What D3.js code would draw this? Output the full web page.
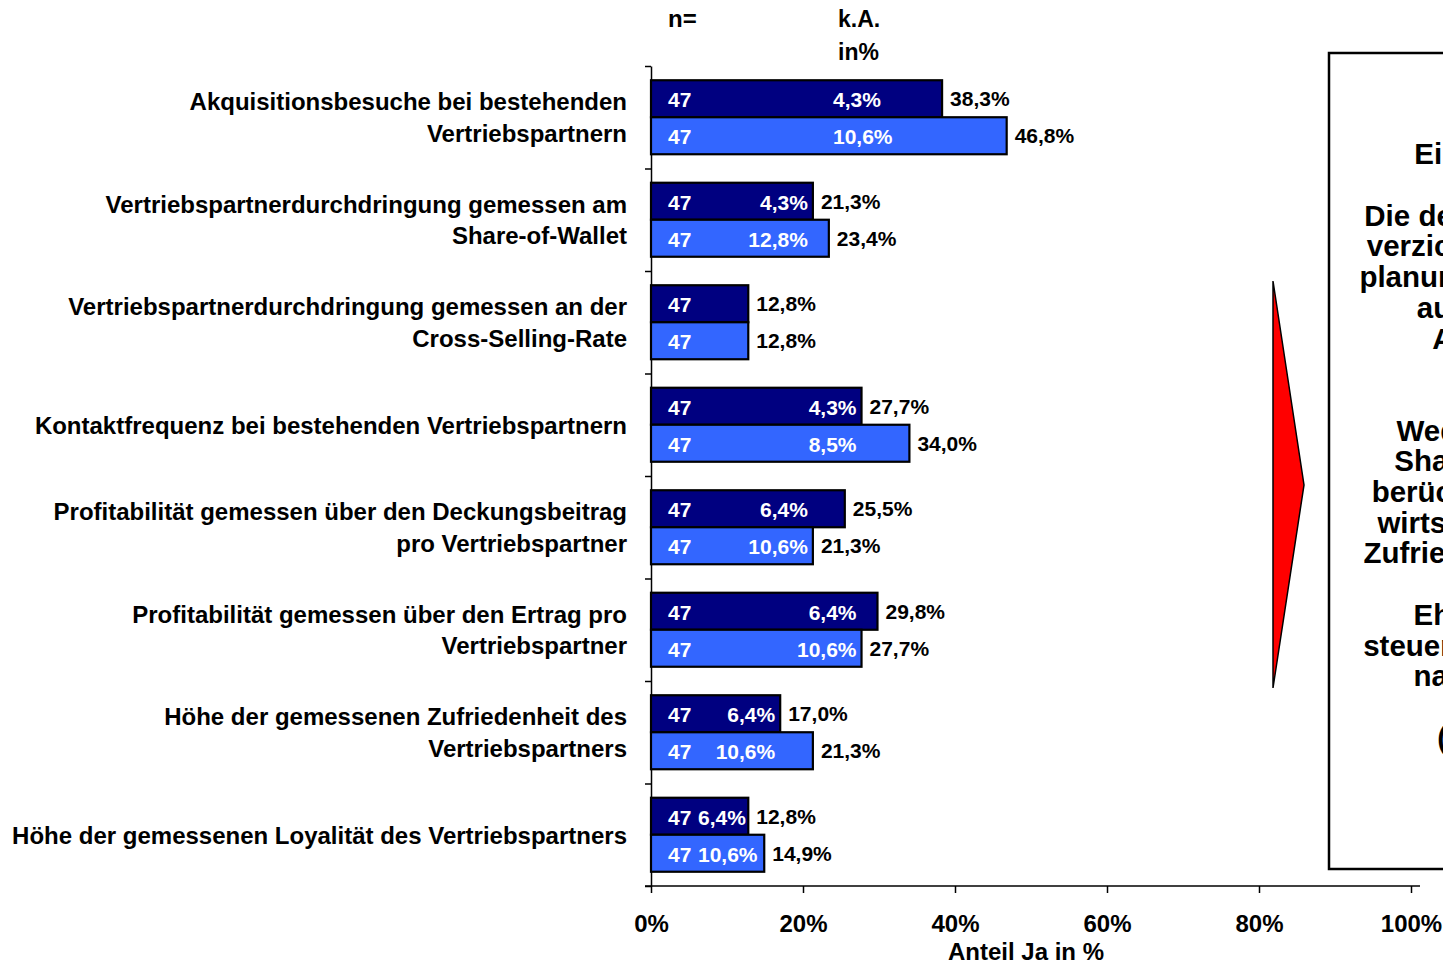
<!DOCTYPE html>
<html>
<head>
<meta charset="utf-8">
<script src="https://cdn.jsdelivr.net/npm/d3@7/dist/d3.min.js"></script>
<style>
  body { margin: 0; background: #fff; overflow: hidden; }
  svg { display: block; font-family: "Liberation Sans", Arial, sans-serif; font-weight: bold; }
</style>
</head>
<body>
<div id="chart"></div>
<script>
// Data
const categories = [
  ['Akquisitionsbesuche bei bestehenden', 'Vertriebspartnern'],
  ['Vertriebspartnerdurchdringung gemessen am', 'Share-of-Wallet'],
  ['Vertriebspartnerdurchdringung gemessen an der', 'Cross-Selling-Rate'],
  ['Kontaktfrequenz bei bestehenden Vertriebspartnern'],
  ['Profitabilität gemessen über den Deckungsbeitrag', 'pro Vertriebspartner'],
  ['Profitabilität gemessen über den Ertrag pro', 'Vertriebspartner'],
  ['Höhe der gemessenen Zufriedenheit des', 'Vertriebspartners'],
  ['Höhe der gemessenen Loyalität des Vertriebspartners']
];
const seriesDark = [38.3, 21.3, 12.8, 27.7, 25.5, 29.8, 17.0, 12.8];
const seriesLight = [46.8, 23.4, 12.8, 34.0, 21.3, 27.7, 21.3, 14.9];
const kaDark = [4.3, 4.3, null, 4.3, 6.4, 6.4, 6.4, 6.4];
const kaLight = [10.6, 12.8, null, 8.5, 10.6, 10.6, 10.6, 10.6];
const nDark = [47, 47, 47, 47, 47, 47, 47, 47];
const nLight = [47, 47, 47, 47, 47, 47, 47, 47];
const xTicks = [0, 20, 40, 60, 80, 100];
const boxLines = [
  'Einordnung:', '', 'Die deutschen KAG', 'verzichten bei ihrer', 'planung weitgehend',
  'auf die volle', 'Analysen.', '', '', 'Weder die CSR', 'Share-of-Wallet',
  'berücksichtigt, die', 'wirtschaftlich, die', 'Zufriedenheit sowie', '',
  'Eher werden', 'steuerliche Aspekte', 'nachgefragt.', '', '(Anhang)'
];

const fmt = v => v.toFixed(1).replace('.', ',') + '%';
const colors = { dark: '#000080', light: '#3366ff' };

const svg = d3.select('#chart').append('svg')
  .attr('width', 1443)
  .attr('height', 965);

// Scales
const x = d3.scaleLinear().domain([0, 100]).range([651, 1411]);
const y = d3.scaleBand().domain(d3.range(categories.length)).range([66, 886]);
const ySub = d3.scaleBand().domain(['dark', 'light']).range([0, y.bandwidth()]).paddingOuter(0.385);
const yIdx = d3.scaleLinear().domain([0, categories.length]).range([66, 886]);

const rows = categories.map((c, i) => ({
  i,
  label: c,
  bars: [
    { key: 'dark', value: seriesDark[i], ka: kaDark[i], n: nDark[i] },
    { key: 'light', value: seriesLight[i], ka: kaLight[i], n: nLight[i] }
  ]
}));

// Axes
const xAxis = svg.append('g')
  .attr('transform', 'translate(0,886)')
  .call(d3.axisBottom(x).tickValues(xTicks).tickSize(7).tickSizeOuter(0).tickPadding(22).tickFormat(d => d + '%'));
xAxis.select('.domain').attr('d', 'M645,0H1420');
xAxis.selectAll('line, path').attr('stroke-width', 1.5);
xAxis.selectAll('text').attr('font-size', 24).attr('font-weight', 'bold').attr('fill', '#000')
  .attr('font-family', '"Liberation Sans", Arial, sans-serif');

const yAxis = svg.append('g')
  .attr('transform', 'translate(651,0)')
  .call(d3.axisLeft(yIdx).tickValues(d3.range(categories.length + 1)).tickSize(6).tickSizeOuter(0).tickFormat(''));
yAxis.selectAll('line, path').attr('stroke-width', 1.5);

svg.append('text')
  .attr('x', 1026).attr('y', 952).attr('dy', '0.35em')
  .attr('text-anchor', 'middle').attr('font-size', 24)
  .text('Anteil Ja in %');

// Headers
svg.append('text').attr('x', 668).attr('y', 19).attr('dy', '0.35em').attr('font-size', 24).text('n=');
svg.append('text').attr('x', 838).attr('y', 19).attr('dy', '0.35em').attr('font-size', 23).text('k.A.');
svg.append('text').attr('x', 838).attr('y', 52).attr('dy', '0.35em').attr('font-size', 23).text('in%');

// Category labels
rows.forEach(r => {
  const cy = y(r.i) + y.bandwidth() / 2 + 1;
  const t = svg.append('text')
    .attr('text-anchor', 'end')
    .attr('font-size', 24);
  r.label.forEach((line, k) => {
    t.append('tspan')
      .attr('x', 627)
      .attr('y', cy + (k - (r.label.length - 1) / 2) * 31.5)
      .attr('dy', '0.33em')
      .text(line);
  });
});

// Bars
const groups = svg.selectAll('.row')
  .data(rows)
  .enter()
  .append('g')
  .attr('class', 'row')
  .attr('transform', d => `translate(0,${y(d.i)})`);

groups.selectAll('rect')
  .data(d => d.bars)
  .enter()
  .append('rect')
  .attr('x', x(0))
  .attr('y', d => ySub(d.key))
  .attr('width', d => x(d.value) - x(0))
  .attr('height', ySub.bandwidth())
  .attr('fill', d => colors[d.key])
  .attr('stroke', '#000')
  .attr('stroke-width', 2.2);

// n labels
groups.selectAll('.n')
  .data(d => d.bars)
  .enter()
  .append('text')
  .attr('x', 668)
  .attr('y', d => ySub(d.key) + ySub.bandwidth() / 2 + 1)
  .attr('dy', '0.35em')
  .attr('font-size', 21)
  .attr('fill', '#fff')
  .text(d => d.n);

// k.A. labels: in the k.A. column when the bars are long enough,
// otherwise right aligned inside the shorter bar, kept clear of n
const kaCol = 833;
groups.each(function(r) {
  const minEnd = d3.min(r.bars, b => x(b.value));
  const wide = minEnd - 5 > 890;
  d3.select(this).selectAll('.ka')
    .data(r.bars.filter(b => b.ka != null))
    .enter()
    .append('text')
    .attr('y', d => ySub(d.key) + ySub.bandwidth() / 2 + 1)
    .attr('dy', '0.35em')
    .attr('text-anchor', wide ? 'start' : 'end')
    .attr('font-size', 21)
    .attr('fill', '#fff')
    .text(d => fmt(d.ka))
    .attr('x', function() {
      return wide ? kaCol : Math.max(minEnd - 5, 698 + this.getComputedTextLength());
    });
});

// value labels
groups.selectAll('.val')
  .data(d => d.bars)
  .enter()
  .append('text')
  .attr('x', d => x(d.value) + 8)
  .attr('y', d => ySub(d.key) + ySub.bandwidth() / 2)
  .attr('dy', '0.35em')
  .attr('font-size', 21)
  .attr('fill', '#000')
  .text(d => fmt(d.value));

// Red arrow
svg.append('path')
  .attr('d', 'M1273,281L1304,485L1273,688Z')
  .attr('fill', '#ff0000')
  .attr('stroke', '#000')
  .attr('stroke-width', 1.5);

// Summary box (cut off on the right)
svg.append('rect')
  .attr('x', 1329).attr('y', 53)
  .attr('width', 400).attr('height', 816)
  .attr('fill', 'none')
  .attr('stroke', '#000')
  .attr('stroke-width', 2.5);

const boxText = svg.append('text')
  .attr('text-anchor', 'middle')
  .attr('font-size', 29.5);
boxLines.forEach((line, k) => {
  boxText.append('tspan')
    .attr('x', 1502)
    .attr('y', 154 + k * 30.7)
    .attr('dy', '0.35em')
    .text(line);
});
</script>
</body>
</html>
